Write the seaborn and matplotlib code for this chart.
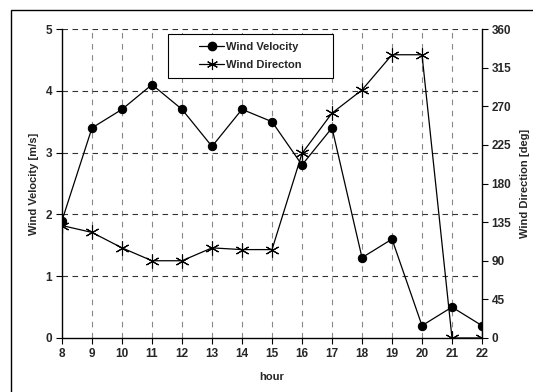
import matplotlib
matplotlib.use("Agg")
import matplotlib.pyplot as plt
import matplotlib.patches as mpatches
from matplotlib.lines import Line2D
import seaborn as sns
import pandas as pd

hours = [8, 9, 10, 11, 12, 13, 14, 15, 16, 17, 18, 19, 20, 21, 22]
velocity = [1.9, 3.4, 3.7, 4.1, 3.7, 3.1, 3.7, 3.5, 2.8, 3.4, 1.3, 1.6, 0.2, 0.5, 0.2]
direction = [131, 123, 105, 90, 90, 105, 103, 103, 215, 262, 289, 330, 330, 0, 0]
vel_ticks = [0, 1, 2, 3, 4, 5]
dir_ticks = [0, 45, 90, 135, 180, 225, 270, 315, 360]

sns.set_theme(style="white")
plt.rcParams["font.family"] = ["Liberation Sans", "DejaVu Sans"]
plt.rcParams["font.weight"] = "bold"

df = pd.DataFrame({"hour": hours, "velocity": velocity, "direction": direction})

W, H = 533, 392
fig = plt.figure(figsize=(W / 100, H / 100), dpi=100)
fig.patch.set_facecolor("white")
ax = fig.add_axes([62 / W, 1 - 338 / H, 420 / W, 309 / H])
ax2 = ax.twinx()
# keep the velocity series above the direction series
ax.set_zorder(ax2.get_zorder() + 1)
ax.patch.set_visible(False)

# outer frame around the whole chart
frame = mpatches.Rectangle((11 / W, -0.05), 1.2, 1 - 10 / H + 0.05, transform=fig.transFigure,
                           fill=False, edgecolor="black", linewidth=1.0, zorder=0)
fig.patches.append(frame)

# direction on the right axis
sns.lineplot(data=df, x="hour", y="direction", ax=ax2, color="black", linewidth=0.9,
             marker=(6, 2, 0), markersize=10, markeredgecolor="black", markeredgewidth=0.8,
             zorder=4, legend=False)
ax2.set_ylim(0, 360)
ax2.set_yticks(dir_ticks)
ax2.set_yticklabels([str(d) for d in dir_ticks], fontsize=8.5, fontweight="bold")
ax2.set_ylabel("Wind Direction [deg]", fontsize=8, fontweight="bold", labelpad=6)
ax2.tick_params(axis="y", direction="out", length=4, width=0.8, color="black", pad=3, right=True)
for s in ["top", "left", "bottom"]:
    ax2.spines[s].set_visible(False)
ax2.spines["right"].set_color("black")
ax2.spines["right"].set_linewidth(1.0)
ax2.grid(False)

# grid: grey dashed verticals, dark dashed horizontals
for h in hours[1:-1]:
    ax2.axvline(h, color="#888888", linestyle=(0, (5, 5)), linewidth=0.8, zorder=1)
for v in vel_ticks[1:]:
    ax2.axhline(v * 72, color="#333333", linestyle=(0, (5, 4)), linewidth=0.8, zorder=1)

# velocity on the left axis
sns.lineplot(data=df, x="hour", y="velocity", ax=ax, color="black", linewidth=0.9,
             marker="o", markersize=6, markeredgecolor="black", markerfacecolor="black",
             zorder=5, legend=False)
ax.set_xlim(8, 22)
ax.set_ylim(0, 5)
ax.set_xticks(hours)
ax.set_yticks(vel_ticks)
ax.set_xticklabels([str(h) for h in hours], fontsize=8.5, fontweight="bold")
ax.set_yticklabels([str(v) for v in vel_ticks], fontsize=8.5, fontweight="bold")
ax.set_xlabel("hour", fontsize=8, fontweight="bold", labelpad=9)
ax.set_ylabel("Wind Velocity [m/s]", fontsize=8, fontweight="bold", labelpad=5)
ax.grid(False)

ax.spines["top"].set_visible(False)
ax.spines["right"].set_visible(False)
for s in ["left", "bottom"]:
    ax.spines[s].set_color("black")
    ax.spines[s].set_linewidth(1.0)
ax.tick_params(axis="both", direction="out", length=4, width=0.8, color="black",
               pad=3, left=True, bottom=True)

# legend box with its entries centred inside
box = mpatches.Rectangle(((168 - 62) / 420, 1 - (78 - 29) / 309), 165 / 420, 44 / 309,
                         transform=ax.transAxes, facecolor="white", edgecolor="black",
                         linewidth=0.8, zorder=9, clip_on=False)
ax.add_patch(box)
handles = [
    Line2D([], [], color="black", linewidth=0.9, marker="o", markersize=6,
           markerfacecolor="black", markeredgecolor="black"),
    Line2D([], [], color="black", linewidth=0.9, marker=(6, 2, 0), markersize=8,
           markeredgecolor="black", markeredgewidth=0.8),
]
leg = ax.legend(handles, ["Wind Velocity", "Wind Directon"],
                loc="center", bbox_to_anchor=((168 + 82.5 - 62) / 420, 1 - (56 - 29) / 309),
                fontsize=8, frameon=False, handlelength=2.2, borderpad=0.0,
                labelspacing=0.75, borderaxespad=0, handletextpad=0.2)
for t in leg.get_texts():
    t.set_fontweight("bold")
leg.set_zorder(10)

fig.savefig("out.png", dpi=100, facecolor="white")
